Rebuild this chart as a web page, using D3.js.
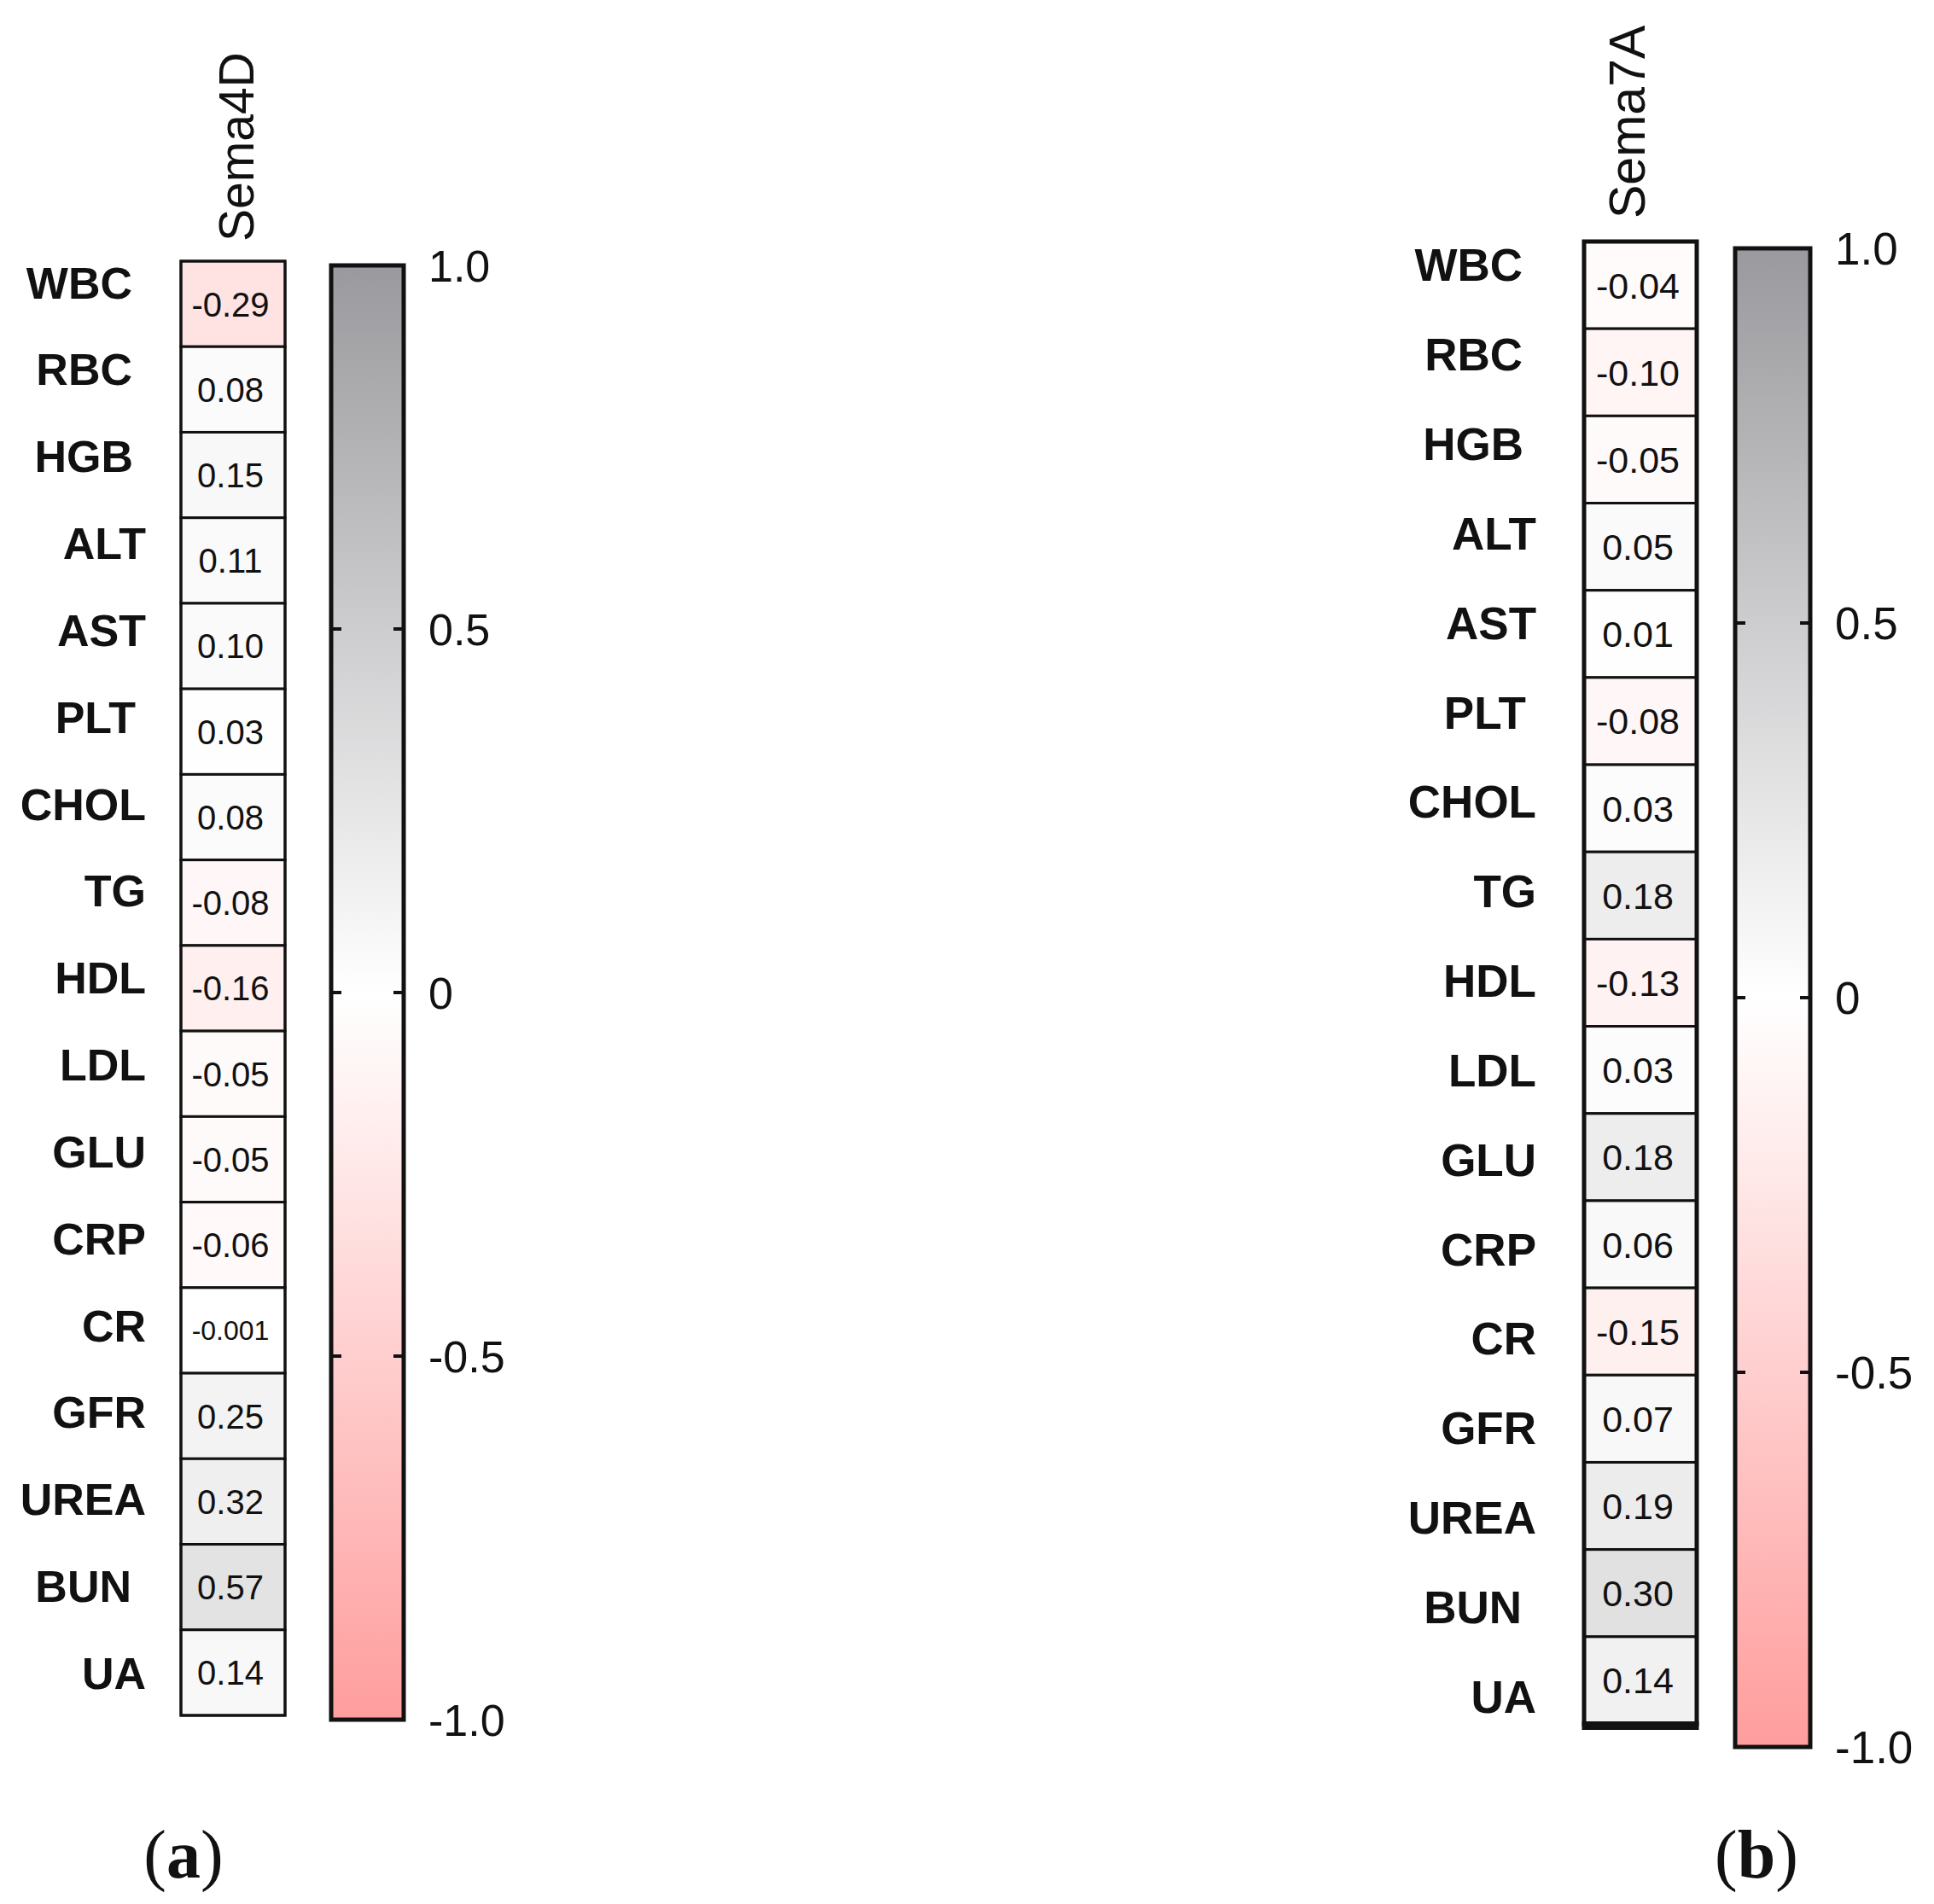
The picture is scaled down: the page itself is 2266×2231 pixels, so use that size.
<!DOCTYPE html>
<html>
<head>
<meta charset="utf-8">
<script src="https://cdn.jsdelivr.net/npm/d3@7"></script>
<style>
  html, body { margin: 0; padding: 0; background: #fff; }
  svg { display: block; }
  text { font-family: "Liberation Sans", Arial, sans-serif; fill: #111; }
</style>
</head>
<body>
<svg id="chart" width="2266" height="2231"></svg>
<script>
// row labels, same for both panels
const markers = ['WBC', 'RBC', 'HGB', 'ALT', 'AST', 'PLT', 'CHOL', 'TG', 'HDL', 'LDL',
  'GLU', 'CRP', 'CR', 'GFR', 'UREA', 'BUN', 'UA'];

// correlation coefficients
const sema4dValues = [-0.29, 0.08, 0.15, 0.11, 0.10, 0.03, 0.08, -0.08, -0.16, -0.05,
  -0.05, -0.06, -0.001, 0.25, 0.32, 0.57, 0.14];
const sema7aValues = [-0.04, -0.10, -0.05, 0.05, 0.01, -0.08, 0.03, 0.18, -0.13, 0.03,
  0.18, 0.06, -0.15, 0.07, 0.19, 0.30, 0.14];

const colorTicks = [1.0, 0.5, 0, -0.5, -1.0];
const tickLabels = ['1.0', '0.5', '0', '-0.5', '-1.0'];

// some labels sit a bit left of the others in the original
const labelNudge = { WBC: -16, RBC: -16, HGB: -15, PLT: -12, BUN: -17 };

const svg = d3.select('#chart');

const PINK = '#ff9d9d';
const BAR_GRAY = '#9a9a9e';

function fmt(v) {
  return (Math.abs(v) < 0.01 && v !== 0) ? v.toFixed(3) : v.toFixed(2);
}

function drawPanel(opt) {
  const g = svg.append('g').attr('class', 'panel');

  const y = d3.scaleBand(markers, [opt.cellTop, opt.cellBottom]);
  const yLabel = d3.scaleBand(markers, [opt.labelTop, opt.labelBottom]);
  const cellW = opt.cellRight - opt.cellLeft;

  // cell colour: pink below zero, grey above
  const cellColor = d3.scaleLinear([-1, 0, 1], [PINK, '#ffffff', opt.cellGray]);

  const rows = markers.map((m, i) => ({ name: m, value: opt.values[i] }));

  g.selectAll('rect.cell')
    .data(rows)
    .join('rect')
    .attr('class', 'cell')
    .attr('x', opt.cellLeft)
    .attr('y', d => y(d.name))
    .attr('width', cellW)
    .attr('height', y.bandwidth())
    .attr('fill', d => cellColor(d.value))
    .attr('stroke', '#111')
    .attr('stroke-width', opt.innerStroke);

  // outer frame
  g.append('rect')
    .attr('x', opt.cellLeft)
    .attr('y', opt.cellTop)
    .attr('width', cellW)
    .attr('height', opt.cellBottom - opt.cellTop)
    .attr('fill', 'none')
    .attr('stroke', '#111')
    .attr('stroke-width', opt.outerStroke);

  if (opt.bottomBar) {
    g.append('line')
      .attr('x1', opt.cellLeft - opt.outerStroke / 2)
      .attr('x2', opt.cellRight + opt.outerStroke / 2)
      .attr('y1', opt.cellBottom + 2)
      .attr('y2', opt.cellBottom + 2)
      .attr('stroke', '#111')
      .attr('stroke-width', opt.bottomBar);
  }

  // values inside the cells
  g.selectAll('text.val')
    .data(rows)
    .join('text')
    .attr('class', 'val')
    .attr('x', opt.cellLeft + cellW / 2 - 3)
    .attr('y', d => y(d.name) + y.bandwidth() / 2)
    .attr('dy', '0.36em')
    .attr('text-anchor', 'middle')
    .style('font-size', d => (Math.abs(d.value) < 0.01 ? opt.smallValueSize : opt.valueSize) + 'px')
    .text(d => fmt(d.value));

  // row labels
  g.selectAll('text.lab')
    .data(markers)
    .join('text')
    .attr('class', 'lab')
    .attr('x', d => opt.labelRight + (labelNudge[d] || 0))
    .attr('y', d => yLabel(d) + yLabel.bandwidth() / 2)
    .attr('dy', '0.36em')
    .attr('text-anchor', 'end')
    .style('font-size', opt.labelSize + 'px')
    .style('font-weight', 'bold')
    .text(d => d);

  // column header, rotated
  g.append('text')
    .attr('transform', `translate(${opt.headerX + opt.headerSize * 0.36},${opt.headerBottom}) rotate(-90)`)
    .attr('text-anchor', 'start')
    .style('font-size', opt.headerSize + 'px')
    .text(opt.header);

  // colour bar
  const cb = d3.scaleLinear([-1, 1], [opt.cbBottom, opt.cbTop]);
  const barColor = d3.scaleLinear([-1, 0, 1], [PINK, '#ffffff', BAR_GRAY]);
  const gradId = 'grad-' + opt.id;
  const grad = svg.append('defs').append('linearGradient')
    .attr('id', gradId)
    .attr('x1', 0).attr('x2', 0).attr('y1', 0).attr('y2', 1);
  d3.range(-1, 1.001, 0.25).reverse().forEach(v => {
    grad.append('stop')
      .attr('offset', (cb(v) - opt.cbTop) / (opt.cbBottom - opt.cbTop))
      .attr('stop-color', barColor(v));
  });

  g.append('rect')
    .attr('x', opt.cbLeft)
    .attr('y', opt.cbTop)
    .attr('width', opt.cbRight - opt.cbLeft)
    .attr('height', opt.cbBottom - opt.cbTop)
    .attr('fill', `url(#${gradId})`)
    .attr('stroke', '#111')
    .attr('stroke-width', 5);

  // inner ticks on both edges (not at the ends)
  const inner = colorTicks.filter(t => Math.abs(t) < 1);
  [[opt.cbLeft, 1], [opt.cbRight, -1]].forEach(([x0, dir]) => {
    g.selectAll(null)
      .data(inner)
      .join('line')
      .attr('x1', x0)
      .attr('x2', x0 + dir * 12)
      .attr('y1', d => cb(d))
      .attr('y2', d => cb(d))
      .attr('stroke', '#111')
      .attr('stroke-width', 4);
  });

  g.selectAll('text.tick')
    .data(colorTicks)
    .join('text')
    .attr('class', 'tick')
    .attr('x', opt.tickX)
    .attr('y', d => cb(d))
    .attr('dy', '0.36em')
    .style('font-size', opt.tickSize + 'px')
    .text((d, i) => tickLabels[i]);

  // panel letter
  const letter = g.append('text')
    .attr('x', opt.letterX)
    .attr('y', 2200)
    .attr('text-anchor', 'middle')
    .style('font-family', '"Liberation Serif", "Times New Roman", serif')
    .style('font-size', '80px');
  letter.append('tspan').text('(');
  letter.append('tspan').style('font-weight', 'bold').text(opt.letter);
  letter.append('tspan').text(')');
}

drawPanel({
  id: 'a', header: 'Sema4D', values: sema4dValues, letter: 'a', letterX: 215,
  cellLeft: 212, cellRight: 334, cellTop: 306, cellBottom: 2010,
  labelTop: 280, labelBottom: 2011, labelRight: 171,
  cellGray: '#cdcdd0', innerStroke: 3, outerStroke: 3, bottomBar: 0,
  valueSize: 40, smallValueSize: 32, labelSize: 52, tickSize: 52,
  headerX: 276, headerBottom: 283, headerSize: 57,
  cbLeft: 388, cbRight: 473, cbTop: 311, cbBottom: 2015, tickX: 502
});

drawPanel({
  id: 'b', header: 'Sema7A', values: sema7aValues, letter: 'b', letterX: 2058,
  cellLeft: 1856, cellRight: 1988, cellTop: 283, cellBottom: 2020,
  labelTop: 258, labelBottom: 2040, labelRight: 1800,
  cellGray: BAR_GRAY, innerStroke: 3, outerStroke: 5, bottomBar: 10,
  valueSize: 43, smallValueSize: 34, labelSize: 53, tickSize: 53,
  headerX: 1906, headerBottom: 256, headerSize: 59,
  cbLeft: 2033, cbRight: 2121, cbTop: 291, cbBottom: 2047, tickX: 2150
});
</script>
</body>
</html>
